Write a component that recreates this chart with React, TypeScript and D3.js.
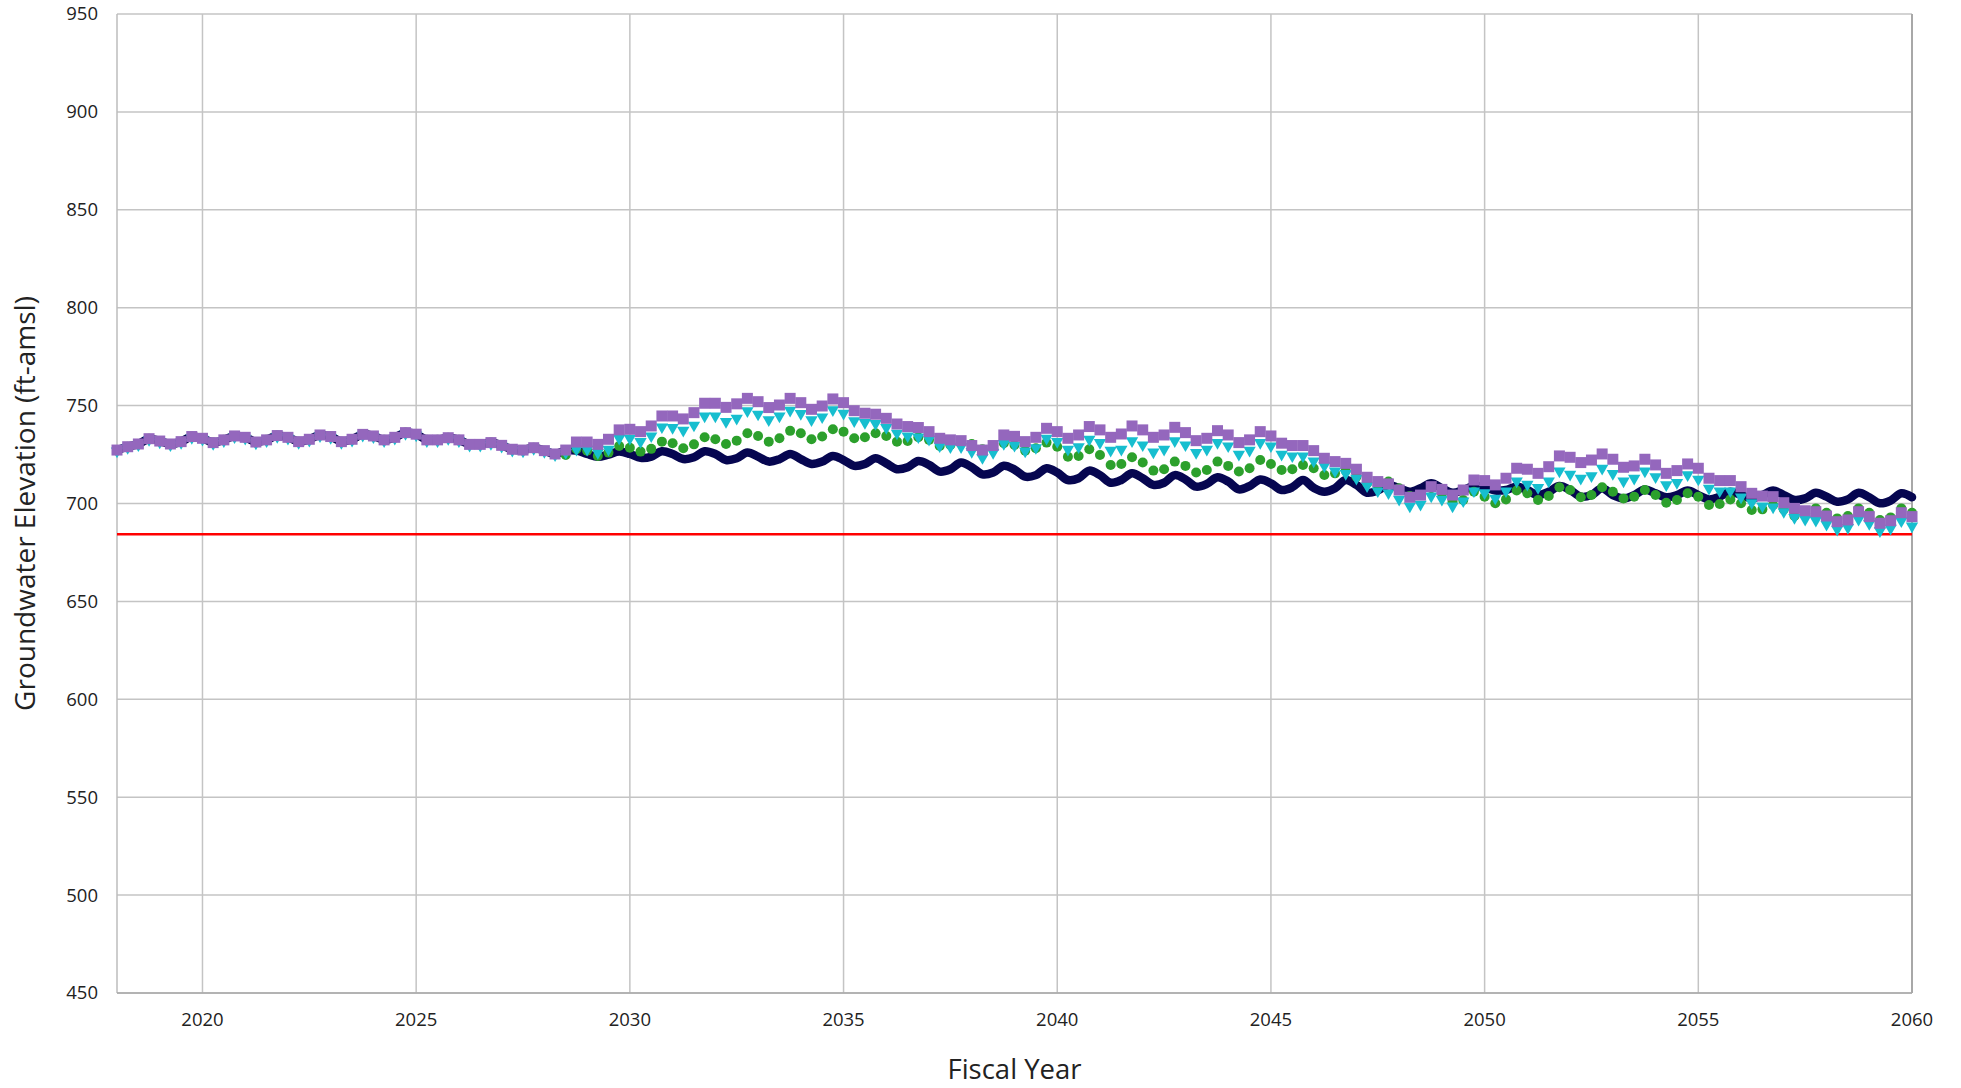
import React from "react";
import * as d3 from "d3";

// Quarterly time axis (fiscal years)
const START_YEAR = 2018;
const STEP = 0.25;

// Values shared by all scenarios, 2018.00 – 2028.25 (quarterly)
const commonHistory = [
  727.3, 729.0, 730.4, 733.1, 731.9, 730.4, 731.6, 734.2,
  733.3, 731.1, 732.5, 734.5, 733.8, 731.4, 732.5, 734.7,
  733.8, 731.6, 732.8, 735.0, 734.2, 731.6, 732.8, 735.3,
  734.5, 732.5, 733.8, 736.2, 735.4, 732.5, 732.5, 733.6,
  732.5, 730.2, 730.2, 731.1, 729.7, 727.7, 727.3, 728.5,
  727.0, 725.3,
];

// Scenario values, 2028.50 – 2060.00 (quarterly)
const baselineFuture = [
  727.0, 727.0,
  725.3, 723.9, 725.0, 726.5, 725.3, 723.3, 723.9, 726.7,
  725.3, 722.7, 723.6, 726.7, 725.3, 722.2, 723.1, 726.0,
  723.9, 721.4, 722.6, 725.3, 722.7, 720.2, 721.4, 724.3,
  722.2, 719.2, 720.2, 723.1, 720.5, 717.5, 718.5, 721.7,
  719.7, 716.3, 717.5, 720.9, 718.5, 714.9, 715.8, 719.3,
  717.3, 713.7, 714.5, 718.0, 715.8, 712.0, 712.9, 716.8,
  714.5, 710.6, 712.0, 715.4, 712.9, 709.5, 710.6, 714.5,
  712.3, 708.6, 710.0, 713.4, 711.2, 707.2, 708.9, 712.3,
  710.3, 706.9, 708.3, 712.0, 708.0, 706.0, 707.8, 712.0,
  709.5, 705.5, 706.6, 709.5, 707.8, 706.0, 707.8, 710.3,
  707.8, 705.5, 706.9, 708.9, 708.3, 706.6, 706.9, 708.6,
  706.9, 704.3, 706.0, 708.9, 706.9, 703.5, 704.3, 707.8,
  704.3, 702.6, 704.3, 707.2, 705.2, 703.2, 704.3, 706.6,
  704.3, 702.1, 703.5, 706.0, 704.3, 702.6, 704.3, 706.6,
  704.3, 701.8, 702.6, 705.5, 703.5, 700.9, 702.1, 705.5,
  703.2, 700.1, 701.5, 705.2, 703.2,
];

const greenFuture = [
  724.8, 727.7,
  727.0, 724.3, 726.0, 729.4, 728.5, 726.5, 727.9, 731.6,
  730.8, 728.2, 730.2, 733.8, 732.8, 730.4, 732.1, 735.9,
  734.5, 731.6, 733.3, 737.1, 735.9, 732.8, 734.2, 737.9,
  736.7, 733.3, 733.8, 735.9, 734.5, 731.6, 731.9, 733.8,
  732.5, 729.4, 729.9, 731.6, 730.4, 727.7, 728.2, 730.8,
  729.9, 727.0, 728.2, 731.1, 729.0, 723.9, 724.3, 727.7,
  724.8, 719.7, 720.2, 723.6, 720.9, 716.8, 717.5, 721.4,
  719.2, 715.8, 717.1, 721.4, 719.2, 716.3, 718.0, 722.2,
  720.2, 717.1, 717.5, 719.7, 718.0, 714.6, 715.4, 716.8,
  713.7, 710.3, 709.5, 711.2, 707.8, 703.8, 704.3, 707.8,
  705.2, 700.9, 701.8, 706.0, 703.5, 700.1, 702.1, 706.6,
  705.2, 701.8, 703.8, 708.3, 706.9, 703.2, 704.3, 708.3,
  706.0, 702.6, 703.5, 706.9, 704.3, 700.4, 701.8, 705.2,
  703.5, 699.2, 699.7, 702.1, 700.1, 696.7, 697.0, 699.2,
  697.0, 693.6, 694.9, 697.5, 695.3, 692.4, 693.6, 697.5,
  695.3, 691.6, 692.9, 697.5, 695.3,
];

const cyanFuture = [
  726.5, 728.2,
  728.2, 726.5, 728.2, 733.8, 733.8, 732.1, 735.0, 739.6,
  739.3, 737.9, 740.5, 745.2, 745.2, 742.3, 744.0, 747.8,
  746.1, 743.2, 745.2, 748.1, 746.4, 743.2, 744.7, 748.3,
  746.6, 742.7, 741.8, 741.3, 739.3, 736.4, 735.0, 734.5,
  733.3, 729.9, 729.4, 729.4, 727.0, 723.9, 726.5, 731.1,
  730.2, 727.3, 729.0, 733.8, 732.1, 728.2, 729.4, 733.3,
  731.6, 727.7, 728.2, 732.5, 730.4, 726.8, 728.2, 732.5,
  730.4, 726.5, 728.2, 731.6, 729.9, 725.6, 727.7, 731.6,
  729.9, 725.6, 724.8, 724.8, 722.2, 719.7, 717.1, 715.8,
  713.4, 709.5, 706.9, 706.0, 702.6, 699.2, 700.1, 704.3,
  702.6, 699.2, 701.8, 706.9, 706.0, 703.2, 706.9, 712.0,
  710.3, 708.6, 712.0, 717.1, 715.4, 713.4, 714.6, 718.5,
  715.8, 712.0, 713.4, 717.1, 714.1, 710.0, 711.2, 715.1,
  712.9, 708.3, 706.9, 706.9, 703.8, 700.9, 699.2, 698.7,
  696.3, 693.3, 692.4, 691.9, 689.9, 687.3, 688.2, 692.4,
  690.2, 686.5, 687.8, 691.6, 689.0,
];

const purpleFuture = [
  727.3, 731.4,
  731.4, 730.2, 732.8, 737.6, 737.9, 736.7, 739.6, 744.7,
  744.7, 743.2, 746.4, 751.2, 751.2, 749.1, 750.9, 753.7,
  752.0, 749.0, 750.3, 753.7, 751.5, 748.1, 749.8, 753.4,
  751.5, 747.4, 746.1, 745.6, 743.5, 740.6, 739.3, 738.8,
  736.7, 733.3, 732.5, 732.1, 729.6, 727.3, 729.6, 735.0,
  734.3, 731.6, 733.8, 738.4, 736.7, 733.3, 735.0, 739.3,
  737.6, 733.8, 735.5, 739.6, 737.6, 733.8, 735.0, 738.9,
  736.2, 732.1, 733.3, 737.2, 735.0, 731.1, 732.5, 736.7,
  734.5, 730.8, 729.6, 729.6, 727.0, 723.1, 721.4, 720.5,
  717.5, 713.4, 711.2, 710.0, 706.9, 703.2, 704.3, 708.6,
  707.2, 704.3, 706.9, 712.0, 711.7, 709.5, 712.9, 718.0,
  717.5, 715.4, 718.8, 724.3, 723.6, 720.9, 722.2, 725.3,
  722.6, 718.5, 719.2, 722.6, 719.7, 715.4, 716.8, 720.2,
  718.0, 712.9, 711.7, 711.7, 708.6, 705.2, 703.8, 703.5,
  700.4, 697.5, 696.3, 695.8, 693.6, 690.7, 691.6, 695.8,
  693.3, 689.9, 691.2, 695.3, 693.3,
];

const thresholdValue = 684.3;
const xTicks = [2020, 2025, 2030, 2035, 2040, 2045, 2050, 2055, 2060];
const yTicks = [450, 500, 550, 600, 650, 700, 750, 800, 850, 900, 950];
const xTitle = "Fiscal Year";
const yTitle = "Groundwater Elevation (ft-amsl)";

const COLORS = {
  baseline: "#060650",
  green: "#2ca02c",
  cyan: "#17becf",
  purple: "#9467bd",
  threshold: "#ff0000",
  grid: "#c4c4c4",
};

type Pt = { x: number; y: number };

function toPoints(values: number[]): Pt[] {
  return values.map((v, i) => ({ x: START_YEAR + i * STEP, y: v }));
}

export default function App() {
  const W = 1961;
  const H = 1088;
  const m = { left: 117, right: 1912, top: 14, bottom: 993 };

  const x = d3.scaleLinear().domain([2018, 2060]).range([m.left, m.right]);
  const y = d3.scaleLinear().domain([450, 950]).range([m.bottom, m.top]);

  const baseline = toPoints(commonHistory.concat(baselineFuture));
  const green = toPoints(commonHistory.concat(greenFuture));
  const cyan = toPoints(commonHistory.concat(cyanFuture));
  const purple = toPoints(commonHistory.concat(purpleFuture));

  const line = d3
    .line<Pt>()
    .x((d) => x(d.x))
    .y((d) => y(d.y))
    .curve(d3.curveCatmullRom.alpha(0.5));

  const font = "'Open Sans', 'Noto Sans', sans-serif";
  const sq = 11;
  const tri = d3.symbol().type(d3.symbolTriangle).size(66)();

  return (
    <svg
      width={W}
      height={H}
      style={{ position: "absolute", left: 0, top: 0, background: "#fff" }}
      fontFamily={font}
    >
      <rect x={0} y={0} width={W} height={H} fill="#ffffff" />
      {/* grid */}
      {yTicks.map((t) => (
        <line
          key={"gy" + t}
          x1={m.left}
          x2={m.right}
          y1={y(t)}
          y2={y(t)}
          stroke={COLORS.grid}
          strokeWidth={1.5}
        />
      ))}
      {xTicks.map((t) => (
        <line
          key={"gx" + t}
          x1={x(t)}
          x2={x(t)}
          y1={m.top}
          y2={m.bottom}
          stroke={t === 2060 ? "#a8a8a8" : COLORS.grid}
          strokeWidth={t === 2060 ? 2 : 1.5}
        />
      ))}
      <line x1={m.left} x2={m.left} y1={m.top} y2={m.bottom} stroke="#bdbdbd" strokeWidth={1.5} />
      <line x1={m.left} x2={m.right} y1={m.bottom} y2={m.bottom} stroke="#a8a8a8" strokeWidth={1.5} />

      {/* threshold */}
      <line
        x1={m.left}
        x2={m.right}
        y1={y(thresholdValue)}
        y2={y(thresholdValue)}
        stroke={COLORS.threshold}
        strokeWidth={2.6}
      />

      {/* baseline thick line */}
      <path
        d={line(baseline) || ""}
        fill="none"
        stroke={COLORS.baseline}
        strokeWidth={8.5}
        strokeLinejoin="round"
        strokeLinecap="round"
      />

      {/* green circles */}
      {green.map((d, i) => (
        <circle key={"g" + i} cx={x(d.x)} cy={y(d.y)} r={5} fill={COLORS.green} />
      ))}
      {/* cyan triangles (pointing down) */}
      {cyan.map((d, i) => (
        <path
          key={"c" + i}
          d={tri || ""}
          transform={`translate(${x(d.x)},${y(d.y) + 1}) rotate(180)`}
          fill={COLORS.cyan}
        />
      ))}
      {/* purple squares */}
      {purple.map((d, i) => (
        <rect
          key={"p" + i}
          x={x(d.x) - sq / 2}
          y={y(d.y) - sq / 2}
          width={sq}
          height={sq}
          fill={COLORS.purple}
        />
      ))}

      {/* y tick labels */}
      {yTicks.map((t) => (
        <text
          key={"ty" + t}
          x={m.left - 19}
          y={y(t)}
          dy="0.35em"
          textAnchor="end"
          fontSize={18.5}
          fill="#222"
        >
          {t}
        </text>
      ))}
      {/* x tick labels */}
      {xTicks.map((t) => (
        <text
          key={"tx" + t}
          x={x(t)}
          y={1020}
          dy="0.35em"
          textAnchor="middle"
          fontSize={18.5}
          fill="#222"
        >
          {t}
        </text>
      ))}

      {/* axis titles */}
      <text
        x={(m.left + m.right) / 2}
        y={1069}
        dy="0.35em"
        textAnchor="middle"
        fontSize={27.5}
        fill="#222"
      >
        {xTitle}
      </text>
      <text
        transform={`translate(25,${(m.top + m.bottom) / 2}) rotate(-90)`}
        dy="0.35em"
        textAnchor="middle"
        fontSize={28}
        fill="#222"
      >
        {yTitle}
      </text>
    </svg>
  );
}
